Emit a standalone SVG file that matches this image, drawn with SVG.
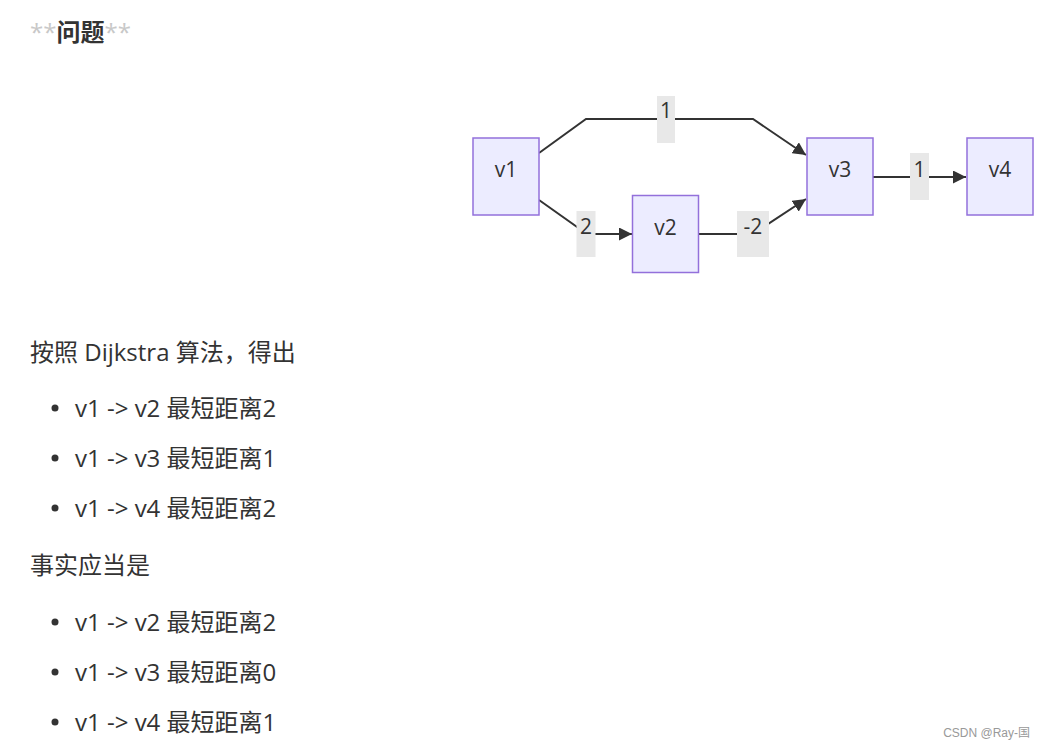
<svg xmlns="http://www.w3.org/2000/svg" width="1044" height="750" viewBox="0 0 1044 750">
<defs>
<style>
.txt{font-family:"Open Sans","Noto Sans CJK SC",sans-serif;fill:#333333}
.body{font-size:24px}
.node rect{fill:#ECECFF;stroke:#9370DB;stroke-width:1.5}
.node text{font-family:"Open Sans","Noto Sans CJK SC",sans-serif;font-size:21px;fill:#333333;text-anchor:middle;dominant-baseline:central}
.edge{fill:none;stroke:#333333;stroke-width:2}
.elbl rect{fill:#e8e8e8}
.elbl text{font-family:"Open Sans","Noto Sans CJK SC",sans-serif;font-size:21px;fill:#333333;text-anchor:middle;dominant-baseline:central}
</style>
<marker id="arrow" viewBox="0 0 10 10" refX="10" refY="5" markerWidth="13" markerHeight="13" markerUnits="userSpaceOnUse" orient="auto">
<path d="M0,0 L10,5 L0,10 z" fill="#333333"/>
</marker>
</defs>
<rect width="1044" height="750" fill="#ffffff"/>

<g id="heading">
<text x="30" y="41" class="txt" font-size="24" font-weight="bold"><tspan fill="#c8c8c8" font-weight="normal">**</tspan>问题<tspan fill="#c8c8c8" font-weight="normal">**</tspan></text>
</g>

<g id="connectors">
<polyline class="edge" points="539,153 586,119 753,119 806,155" marker-end="url(#arrow)"/>
<polyline class="edge" points="539,200 587,234 632,234" marker-end="url(#arrow)"/>
<polyline class="edge" points="699,234 753,234 806,199" marker-end="url(#arrow)"/>
<polyline class="edge" points="873,177 966,177" marker-end="url(#arrow)"/>
<g class="elbl"><rect x="657" y="96" width="18" height="47"/><text x="666" y="110">1</text></g>
<g class="elbl"><rect x="576.5" y="211" width="19" height="46"/><text x="586" y="226">2</text></g>
<g class="elbl"><rect x="737" y="211" width="32" height="46"/><text x="753" y="226">-2</text></g>
<g class="elbl"><rect x="910" y="153" width="19" height="47"/><text x="919.5" y="169">1</text></g>
</g>

<g id="v1" class="node"><rect x="473" y="138" width="66" height="77"/><text x="506" y="169">v1</text></g>
<g id="v2" class="node"><rect x="632.5" y="195.5" width="66" height="77"/><text x="665.5" y="227">v2</text></g>
<g id="v3" class="node"><rect x="807" y="138" width="66" height="77"/><text x="840" y="169">v3</text></g>
<g id="v4" class="node"><rect x="967" y="138" width="66" height="77"/><text x="1000" y="169">v4</text></g>

<g id="text1">
<text x="30" y="361" class="txt body">按照 Dijkstra 算法，得出</text>
<circle cx="55" cy="408" r="3.5" fill="#333"/>
<text x="75" y="417" class="txt body">v1 -&gt; v2 最短距离2</text>
<circle cx="55" cy="458" r="3.5" fill="#333"/>
<text x="75" y="467" class="txt body">v1 -&gt; v3 最短距离1</text>
<circle cx="55" cy="508" r="3.5" fill="#333"/>
<text x="75" y="517" class="txt body">v1 -&gt; v4 最短距离2</text>
</g>
<g id="text2">
<text x="30" y="574" class="txt body">事实应当是</text>
<circle cx="55" cy="622" r="3.5" fill="#333"/>
<text x="75" y="631" class="txt body">v1 -&gt; v2 最短距离2</text>
<circle cx="55" cy="672" r="3.5" fill="#333"/>
<text x="75" y="681" class="txt body">v1 -&gt; v3 最短距离0</text>
<circle cx="55" cy="722" r="3.5" fill="#333"/>
<text x="75" y="731" class="txt body">v1 -&gt; v4 最短距离1</text>
</g>
<text x="1030" y="737" text-anchor="end" font-family="'Liberation Sans','Noto Sans CJK SC',sans-serif" font-size="12" fill="#999999">CSDN @Ray-国</text>
</svg>
